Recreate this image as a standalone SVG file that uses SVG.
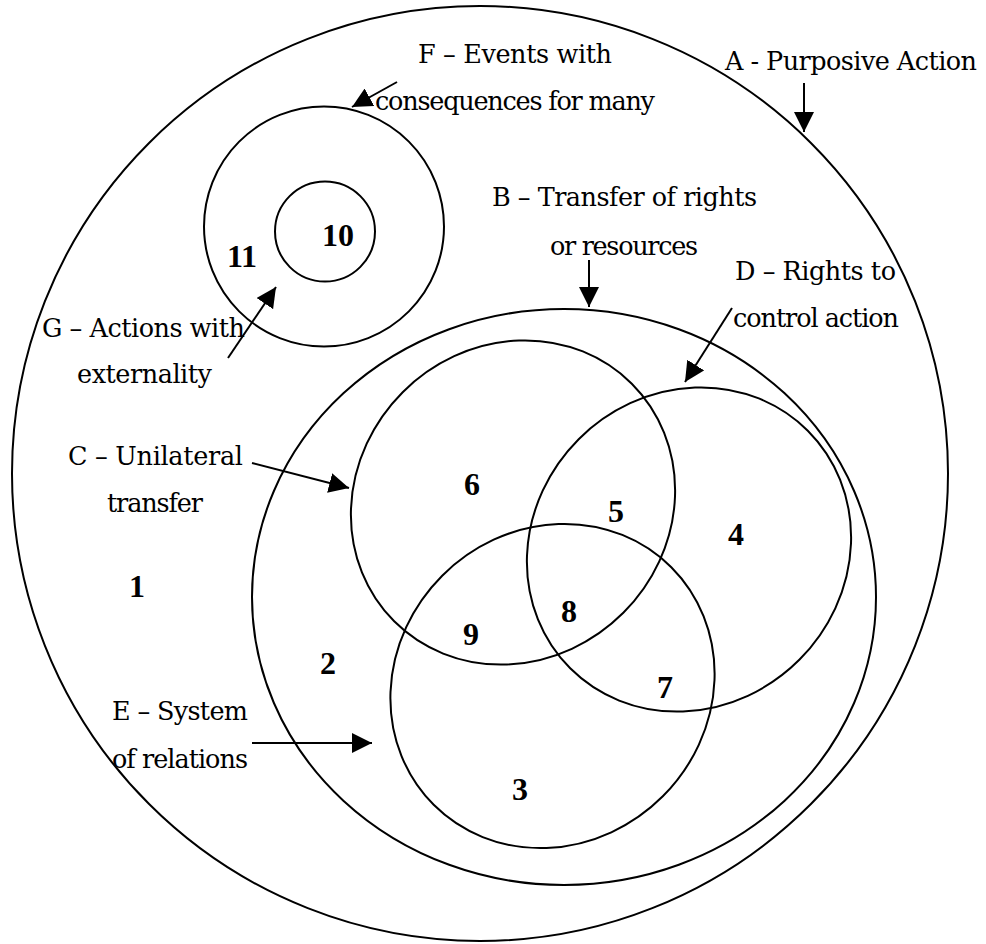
<svg xmlns="http://www.w3.org/2000/svg" width="986" height="944" viewBox="0 0 986 944">
<style>
.ring{fill:none;stroke:#000;stroke-width:2}
.lbl{font-family:"DejaVu Serif","Liberation Serif",serif;font-size:25.5px;fill:#000;text-anchor:middle}
.num{font-family:"Liberation Serif","DejaVu Serif",serif;font-size:32px;font-weight:bold;fill:#000;text-anchor:middle}
.arr{stroke:#000;stroke-width:2;fill:none;marker-end:url(#head)}
</style>
<defs>
<marker id="head" viewBox="0 0 20 20" refX="20" refY="10" markerWidth="20" markerHeight="20" markerUnits="userSpaceOnUse" orient="auto">
<path d="M0,0 L20,10 L0,20 z" fill="#000"/>
</marker>
</defs>
<rect width="986" height="944" fill="#fff"/>
<g id="A">
<ellipse class="ring" cx="480" cy="473.5" rx="468" ry="467.5"/>
<text class="lbl" x="851" y="70" textLength="252">A - Purposive Action</text>
<text class="num" x="137" y="597">1</text>
</g>
<g id="F">
<circle class="ring" cx="324" cy="226.5" r="120"/>
<text class="lbl" x="515" y="63" textLength="194">F – Events with</text>
<text class="lbl" x="515" y="110" textLength="280">consequences for many</text>
<text class="num" x="242" y="267">11</text>
</g>
<g id="G">
<circle class="ring" cx="325" cy="231.5" r="50"/>
<text class="lbl" x="143.5" y="337" textLength="203">G – Actions with</text>
<text class="lbl" x="144.5" y="383" textLength="135">externality</text>
<text class="num" x="338" y="246">10</text>
</g>
<g id="B">
<ellipse class="ring" cx="564" cy="597" rx="312" ry="288"/>
<text class="lbl" x="624.5" y="206" textLength="265">B – Transfer of rights</text>
<text class="lbl" x="624" y="255" textLength="148">or resources</text>
<text class="num" x="328" y="674">2</text>
</g>
<g id="C">
<ellipse class="ring" cx="513" cy="502.5" rx="168" ry="156" transform="rotate(-45 513 502.5)"/>
<text class="lbl" x="155.5" y="465" textLength="175">C – Unilateral</text>
<text class="lbl" x="155" y="512" textLength="96">transfer</text>
<text class="num" x="472" y="495">6</text>
</g>
<g id="D">
<ellipse class="ring" cx="689" cy="549.5" rx="168" ry="156" transform="rotate(-45 689 549.5)"/>
<text class="lbl" x="815.5" y="280" textLength="161">D – Rights to</text>
<text class="lbl" x="816" y="327" textLength="166">control action</text>
<text class="num" x="736" y="545">4</text>
</g>
<g id="E">
<ellipse class="ring" cx="552.5" cy="686" rx="168" ry="156" transform="rotate(-45 552.5 686)"/>
<text class="lbl" x="180" y="720" textLength="136">E – System</text>
<text class="lbl" x="180" y="768" textLength="136">of relations</text>
<text class="num" x="520" y="800">3</text>
</g>
<g id="overlaps">
<text class="num" x="616" y="522">5</text>
<text class="num" x="665" y="698">7</text>
<text class="num" x="569" y="622">8</text>
<text class="num" x="471" y="645">9</text>
</g>
<g id="connectors">
<line class="arr" x1="804" y1="83" x2="804" y2="132"/>
<line class="arr" x1="397" y1="82" x2="352" y2="107"/>
<line class="arr" x1="589" y1="260" x2="589" y2="307"/>
<line class="arr" x1="732" y1="308" x2="685" y2="382"/>
<line class="arr" x1="228" y1="358" x2="276" y2="287"/>
<line class="arr" x1="252" y1="463" x2="349" y2="488"/>
<line class="arr" x1="252" y1="743" x2="372" y2="743"/>
</g>
</svg>
